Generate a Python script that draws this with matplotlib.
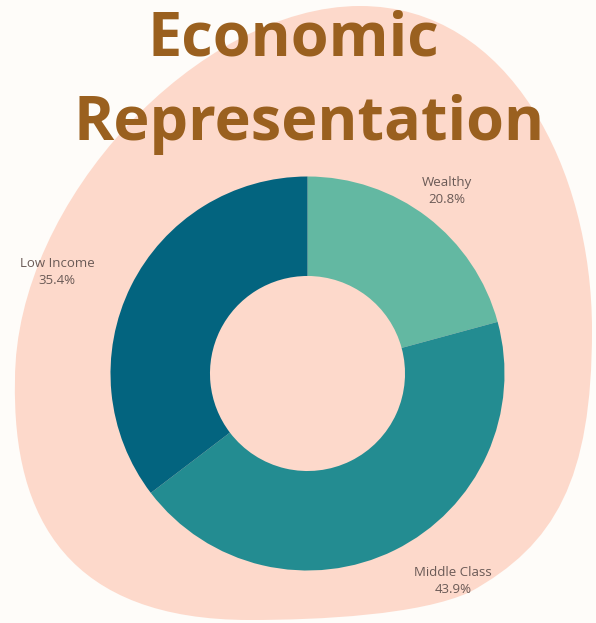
import numpy as np
import matplotlib
matplotlib.use("Agg")
import matplotlib.pyplot as plt
from matplotlib.path import Path
from matplotlib.patches import PathPatch

# ---- data ----
categories = ["Wealthy", "Middle Class", "Low Income"]
shares = [20.8, 43.9, 35.4]
pct_labels = ["20.8%", "43.9%", "35.4%"]
colors = ["#63b8a2", "#238c91", "#03647f"]
title_lines = ["Economic", "Representation"]

W, H = 596, 623
fig = plt.figure(figsize=(W / 100, H / 100), dpi=100)
fig.patch.set_facecolor("#fefcf9")

# ---- background blob (decoration) ----
bg = fig.add_axes([0, 0, 1, 1])
bg.set_xlim(0, W)
bg.set_ylim(H, 0)
bg.axis("off")
verts = [(360, 6),
         (510, 6), (592, 170), (592, 330),
         (592, 480), (555, 545), (470, 592),
         (420, 615), (320, 620), (250, 620),
         (70, 620), (12, 520), (15, 380),
         (15, 200), (200, 6), (360, 6)]
codes = [Path.MOVETO] + [Path.CURVE4] * 15
bg.add_patch(PathPatch(Path(verts, codes), facecolor="#fdd9cb", edgecolor="none"))

# ---- title ----
title_font = ["Open Sans", "DejaVu Sans"]
fig.text(293 / W, 1 - 55 / H, title_lines[0], ha="center", va="baseline",
         fontsize=44, fontweight="bold", color="#9a601f", family=title_font)
fig.text(309 / W, 1 - 140 / H, title_lines[1], ha="center", va="baseline",
         fontsize=44, fontweight="bold", color="#9a601f", family=title_font)

# ---- donut ----
cx, cy, r = 307.5, 373.5, 197
ax = fig.add_axes([(cx - r) / W, (H - cy - r) / H, 2 * r / W, 2 * r / H])
ax.set_facecolor("none")
wedges, _ = ax.pie(shares, colors=colors, startangle=90, counterclock=False,
                   radius=1.0, wedgeprops=dict(width=0.505, edgecolor="none"))
ax.set_xlim(-1, 1)
ax.set_ylim(-1, 1)
ax.axis("off")

label_pos = {"Wealthy": (0.708, 0.926), "Middle Class": (0.739, -1.053),
             "Low Income": (-1.272, 0.515)}
for cat, pl in zip(categories, pct_labels):
    x, y = label_pos[cat]
    ax.text(x, y, f"{cat}\n{pl}", ha="center", va="center", fontsize=9.5,
            color="#6a5a56", family=["Open Sans", "DejaVu Sans"], linespacing=1.35,
            clip_on=False)

fig.savefig("out.png", dpi=100, facecolor=fig.get_facecolor())
